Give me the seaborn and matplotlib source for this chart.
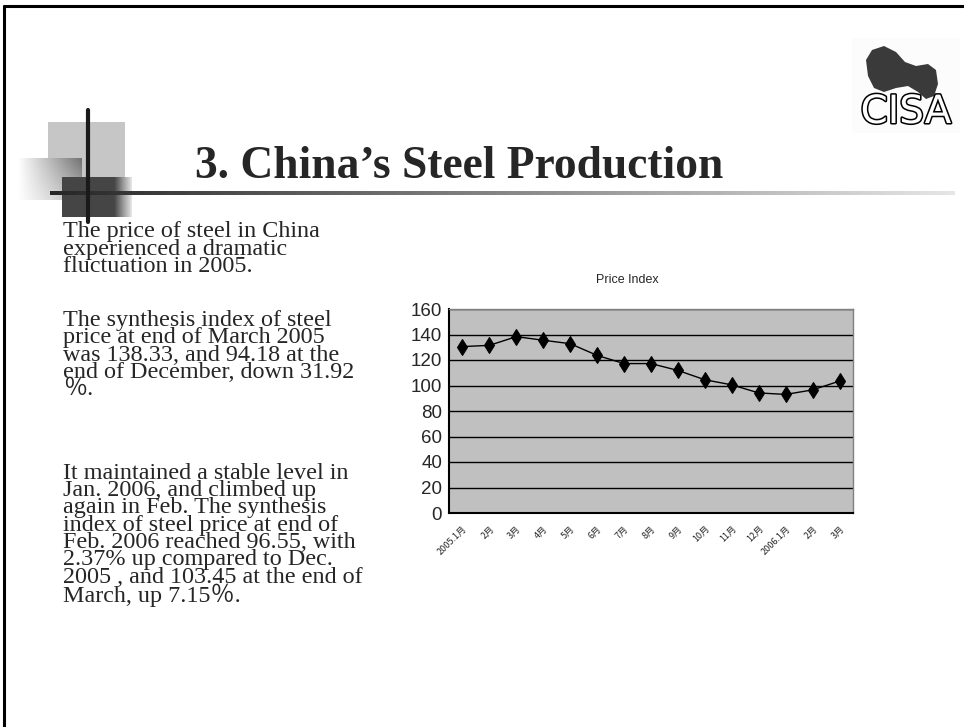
import numpy as np
import matplotlib
matplotlib.use('Agg')
import matplotlib.pyplot as plt
import seaborn as sns
import pandas as pd
from matplotlib.patches import Rectangle, Polygon
import matplotlib.patheffects as pe

# ---------------- data ----------------
months = ['2005.1月', '2月', '3月', '4月', '5月', '6月', '7月', '8月', '9月',
          '10月', '11月', '12月', '2006.1月', '2月', '3月']
price_index = [130.5, 131.5, 138.33, 135.5, 132.8, 123.6, 117.2, 117.2, 111.8,
               104.5, 100.5, 94.18, 93.0, 96.55, 103.45]
y_ticks = [0, 20, 40, 60, 80, 100, 120, 140, 160]
chart_title = 'Price Index'
slide_title = '3. China\u2019s Steel Production'
para1 = ['The price of steel in China', 'experienced a dramatic', 'fluctuation in 2005.']
para2 = ['The synthesis index of steel', 'price at end of March 2005',
         'was 138.33, and 94.18 at the', 'end of December, down 31.92', '\uff05.']
para3 = ['It maintained a stable level in', 'Jan. 2006, and climbed up',
         'again in Feb. The synthesis', 'index of steel price at end of',
         'Feb. 2006 reached 96.55, with', '2.37% up compared to Dec.',
         '2005 , and 103.45 at the end of', 'March, up 7.15\uff05.']

sns.set_style('white')
plt.rcParams['font.family'] = ['DejaVu Sans', 'Noto Sans CJK SC']

W, H = 964, 727
fig = plt.figure(figsize=(W / 100, H / 100), dpi=100)
fig.patch.set_facecolor('white')

# background axes in pixel coordinates
bg = fig.add_axes([0, 0, 1, 1])
bg.set_xlim(0, W)
bg.set_ylim(H, 0)
bg.axis('off')

# slide border
bg.plot([4, W], [6, 6], color='black', lw=2.2)
bg.plot([4, 4], [6, H], color='black', lw=2.2)

# decorative squares
bg.add_patch(Rectangle((48, 122), 77, 60, facecolor='#C6C6C6', edgecolor='none', zorder=1))
grad = np.linspace(0, 1, 64)[None, :] * np.ones((32, 1))
grad2 = grad * np.linspace(1, 0.5, 32)[:, None]
bg.imshow(1 - 0.55 * grad2, cmap='gray', vmin=0, vmax=1, extent=(18, 82, 200, 158),
          aspect='auto', zorder=2)
gdark = np.linspace(0, 1, 64)[None, :]
bg.imshow(np.where(gdark < 0.75, 0.27, 0.27 + (gdark - 0.75) * 2.5), cmap='gray', vmin=0, vmax=1,
          extent=(62, 132, 217, 177), aspect='auto', zorder=3)
# horizontal gradient line
hl = np.linspace(0, 1, 300)[None, :]
bg.imshow(0.15 + 0.75 * hl, cmap='gray', vmin=0, vmax=1, extent=(50, 955, 195, 191),
          aspect='auto', zorder=4)
bg.plot([88, 88], [110, 222], color='#1a1a1a', lw=3, zorder=5)

# title
bg.text(195, 167, slide_title, fontsize=32.8, fontweight='bold', va='center', ha='left',
        family=['Liberation Serif', 'DejaVu Serif'], zorder=6)

# logo
bg.add_patch(Rectangle((852, 38), 108, 95, facecolor='#FCFCFC', edgecolor='none'))
blob = [(866, 60), (872, 50), (884, 46), (896, 52), (905, 62), (916, 66), (928, 64),
        (936, 70), (938, 84), (934, 96), (926, 99), (918, 92), (908, 86), (896, 88),
        (884, 92), (874, 88), (868, 76)]
bg.add_patch(Polygon(blob, closed=True, facecolor='#3a3a3a', edgecolor='none'))
t = bg.text(906, 112, 'CISA', fontsize=28, ha='center', va='center', color='white',
            family='DejaVu Sans')
t.set_path_effects([pe.Stroke(linewidth=2.2, foreground='black'), pe.Normal()])

# body text (one multi-line text per paragraph)
serif = ['Liberation Serif', 'Noto Sans CJK SC']
fs = 17.4
step = 17.1
line_sp = step / (0.92 * fs * 100 / 72)
def block(lines, y0):
    yc = y0 + (len(lines) - 1) * step / 2
    bg.text(63, yc, '\n'.join(lines), fontsize=fs, family=serif, va='center', ha='left',
            linespacing=line_sp)
block(para1, 232)
block(para2, 321)
block(para3, 475)

# chart title
bg.text(627, 280, chart_title, fontsize=9, ha='center', va='center',
        family=['Liberation Sans', 'DejaVu Sans'])

# ---------------- chart ----------------
left, right, top, bottom = 449, 853, 309, 513
ax = fig.add_axes([left / W, 1 - bottom / H, (right - left) / W, (bottom - top) / H])
ax.set_facecolor('#C0C0C0')

df = pd.DataFrame({'pos': np.arange(len(months)), 'value': price_index})
sns.lineplot(data=df, x='pos', y='value', ax=ax, color='black', linewidth=1,
             marker='d', markersize=8, markeredgecolor='black', zorder=5)

ax.set_xlim(-0.5, len(months) - 0.5)
ax.set_ylim(y_ticks[0], y_ticks[-1])
ax.set_yticks(y_ticks)
ax.set_yticklabels([str(v) for v in y_ticks], fontsize=13.5,
                   family=['Liberation Sans', 'DejaVu Sans'])
ax.yaxis.grid(True, color='black', linewidth=1)
ax.xaxis.grid(False)
ax.set_axisbelow(True)
ax.set_xticks(np.arange(len(months)))
ax.set_xticklabels(months, rotation=45, ha='right', rotation_mode='anchor', fontsize=6.5,
                   family=['Noto Sans CJK SC', 'DejaVu Sans'])
ax.set_xticks(np.arange(len(months) - 1) + 0.5, minor=True)
ax.tick_params(axis='x', which='major', length=0, pad=8)
ax.tick_params(axis='x', which='minor', length=4, direction='in', color='black', width=1)
ax.tick_params(axis='y', length=3, direction='out', color='black', pad=2)
ax.set_xlabel('')
ax.set_ylabel('')
for s in ['left', 'bottom']:
    ax.spines[s].set_color('black')
    ax.spines[s].set_linewidth(1.5)
for s in ['top', 'right']:
    ax.spines[s].set_color('#808080')
    ax.spines[s].set_linewidth(1)

fig.savefig('out.png', dpi=100)
